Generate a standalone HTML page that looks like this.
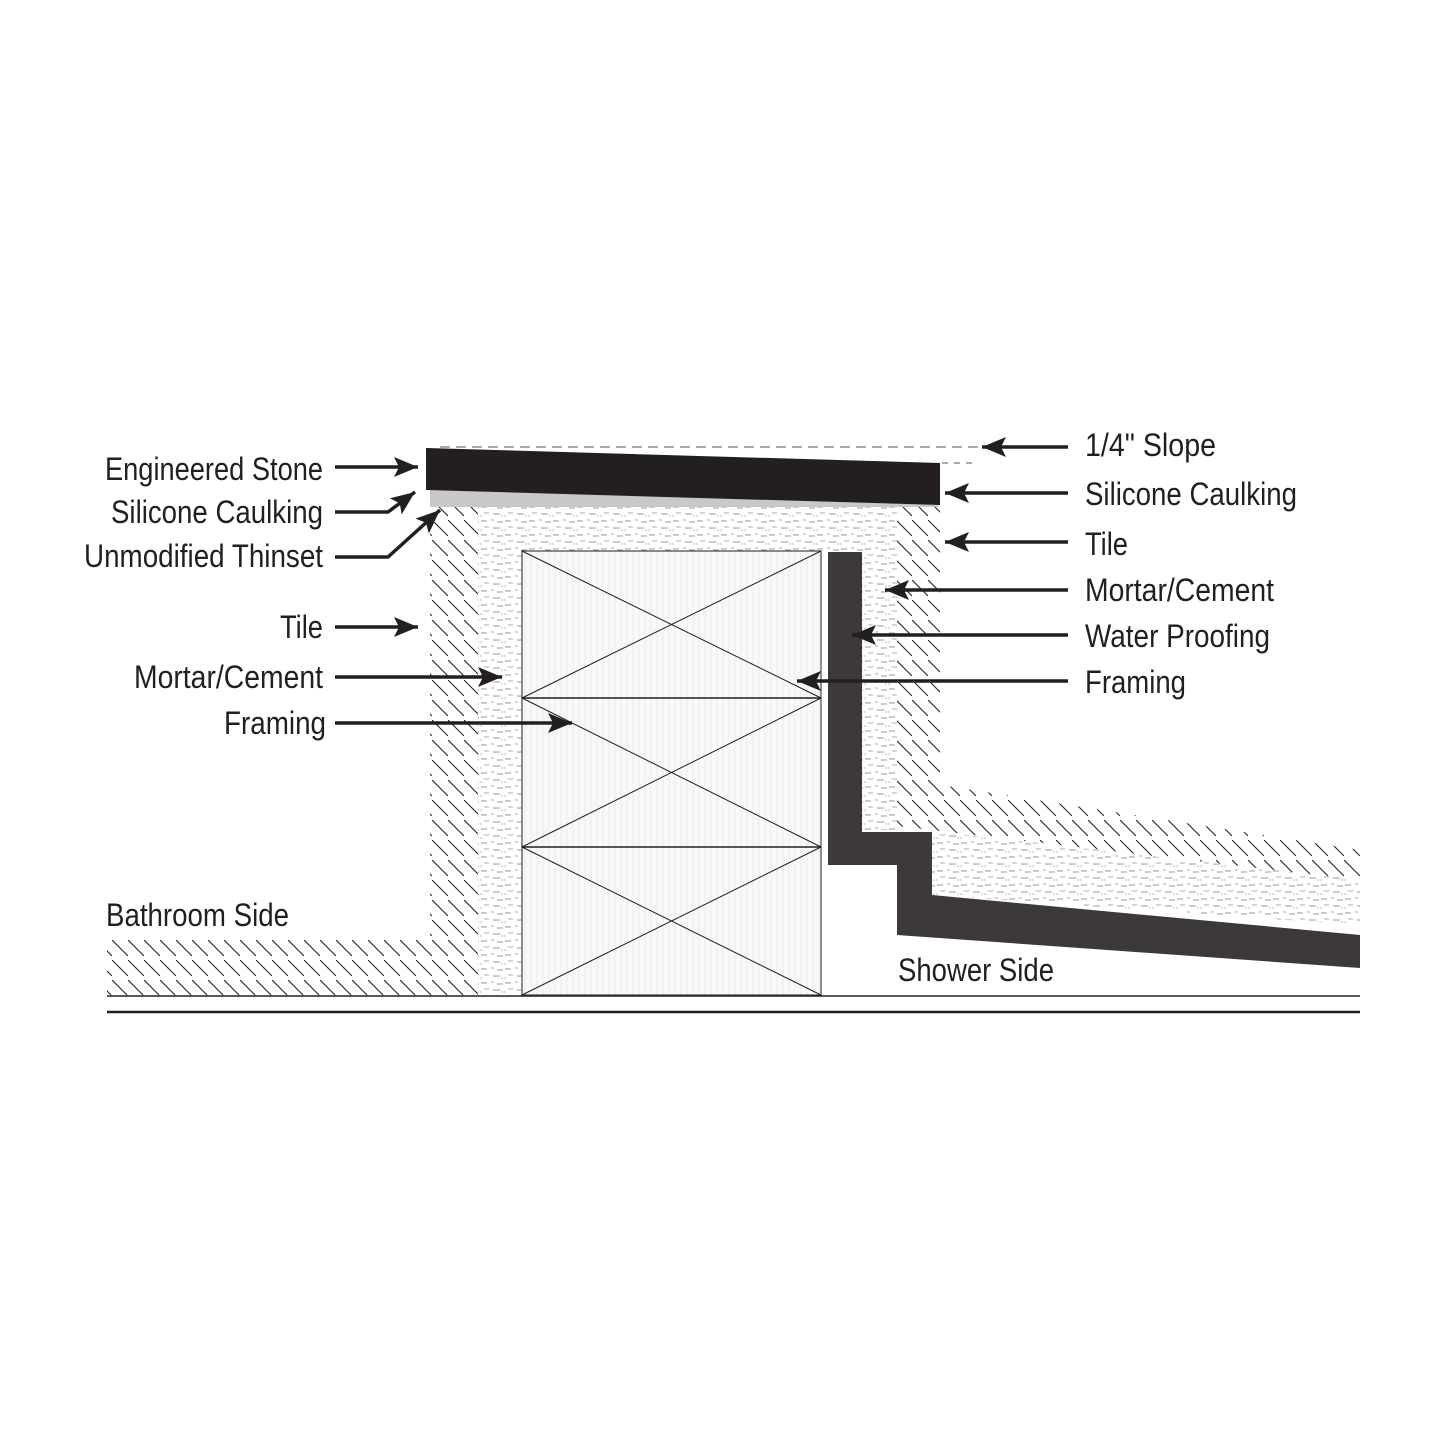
<!DOCTYPE html>
<html><head><meta charset="utf-8"><style>
html,body{margin:0;padding:0;background:#fff;}
svg{display:block;}
text{font-family:"Liberation Sans",sans-serif;font-size:32px;fill:#231f20;}
</style></head><body>
<svg width="1445" height="1444" viewBox="0 0 1445 1444" xmlns="http://www.w3.org/2000/svg">
<defs>
<pattern id="hatch" width="16" height="20" patternUnits="userSpaceOnUse">
<line x1="0" y1="0" x2="16" y2="16" stroke="#231f20" stroke-width="1.1"/>
</pattern>
<pattern id="mortar" width="24" height="14" patternUnits="userSpaceOnUse">
<rect width="24" height="14" fill="#fff"/>
<line x1="1" y1="3" x2="7" y2="3" stroke="#999" stroke-width="1"/>
<line x1="11" y1="2" x2="14" y2="2" stroke="#aaa" stroke-width="1"/>
<line x1="17" y1="4" x2="23" y2="4" stroke="#999" stroke-width="1"/>
<line x1="4" y1="9" x2="9" y2="9" stroke="#aaa" stroke-width="1"/>
<line x1="13" y1="10" x2="20" y2="10" stroke="#999" stroke-width="1"/>
<line x1="21" y1="12" x2="23" y2="12" stroke="#bbb" stroke-width="1"/>
<line x1="0" y1="12" x2="2" y2="12" stroke="#bbb" stroke-width="1"/>
</pattern>
<pattern id="wood" width="6" height="10" patternUnits="userSpaceOnUse">
<rect width="6" height="10" fill="#f8f8f8"/>
<line x1="3" y1="0" x2="3" y2="10" stroke="#ececec" stroke-width="1"/>
</pattern>
<marker id="ah" markerWidth="26" markerHeight="20" refX="24" refY="10" orient="auto" markerUnits="userSpaceOnUse">
<path d="M0,0 L24,10 L0,20 L5,10 Z" fill="#231f20"/>
</marker>
</defs>

<path d="M430,507 L478,507 L478,995 L107,995 L107,940 L430,940 Z" fill="url(#hatch)"/>
<path d="M478,507 L897,507 L897,830 L862,830 L862,552 L522,552 L522,995 L478,995 Z" fill="url(#mortar)"/>
<path d="M897,507 L940,507 L940,785 L1360,850 L1360,880 L897,826 Z" fill="url(#hatch)"/>
<path d="M932,832 L940,832 L1360,880 L1360,925 L932,895 Z" fill="url(#mortar)"/>
<rect x="522" y="551" width="299" height="444" fill="url(#wood)" stroke="#444" stroke-width="1.2"/>
<line x1="522" y1="698" x2="821" y2="698" stroke="#231f20" stroke-width="1.5"/>
<line x1="522" y1="847" x2="821" y2="847" stroke="#231f20" stroke-width="1.5"/>
<g stroke="#231f20" stroke-width="1">
<line x1="522" y1="551" x2="821" y2="698"/><line x1="821" y1="551" x2="522" y2="698"/>
<line x1="522" y1="698" x2="821" y2="847"/><line x1="821" y1="698" x2="522" y2="847"/>
<line x1="522" y1="847" x2="821" y2="995"/><line x1="821" y1="847" x2="522" y2="995"/>
</g>
<path d="M828,552 L862,552 L862,832 L932,832 L932,895 L1360,935 L1360,968 L897,935 L897,865 L828,865 Z" fill="#3d3839"/>
<path d="M430,490 L940,505 L938,507 L430,507 Z" fill="#c8c8c8"/>
<path d="M426,448 L940,463 L940,505 L426,490 Z" fill="#231f20"/>
<line x1="440" y1="447" x2="978" y2="447" stroke="#555" stroke-width="1" stroke-dasharray="10,6"/>
<line x1="942" y1="463" x2="978" y2="463" stroke="#555" stroke-width="1" stroke-dasharray="6,6"/>
<line x1="107" y1="996" x2="1360" y2="996" stroke="#231f20" stroke-width="1.5"/>
<line x1="107" y1="1012" x2="1360" y2="1012" stroke="#231f20" stroke-width="2.5"/>

<g stroke="#231f20" stroke-width="3.5" fill="none" marker-end="url(#ah)">
<line x1="335" y1="467" x2="418" y2="467"/>
<polyline points="335,512 388,512 415,492"/>
<polyline points="335,557 388,557 440,510"/>
<line x1="335" y1="627" x2="418" y2="627"/>
<line x1="335" y1="677" x2="502" y2="677"/>
<line x1="335" y1="723" x2="572" y2="723"/>
<line x1="1068" y1="447" x2="982" y2="447"/>
<line x1="1068" y1="493" x2="945" y2="493"/>
<line x1="1068" y1="542" x2="945" y2="542"/>
<line x1="1068" y1="590" x2="885" y2="590"/>
<line x1="1068" y1="635" x2="852" y2="635"/>
<line x1="1068" y1="681" x2="797" y2="681"/>
</g>

<text x="105" y="480" textLength="218" lengthAdjust="spacingAndGlyphs">Engineered Stone</text>
<text x="111" y="523" textLength="212" lengthAdjust="spacingAndGlyphs">Silicone Caulking</text>
<text x="84" y="567" textLength="239" lengthAdjust="spacingAndGlyphs">Unmodified Thinset</text>
<text x="280" y="638" textLength="43" lengthAdjust="spacingAndGlyphs">Tile</text>
<text x="134" y="688" textLength="189" lengthAdjust="spacingAndGlyphs">Mortar/Cement</text>
<text x="224" y="734" textLength="102" lengthAdjust="spacingAndGlyphs">Framing</text>
<text x="1085" y="456" textLength="131" lengthAdjust="spacingAndGlyphs">1/4" Slope</text>
<text x="1085" y="505" textLength="212" lengthAdjust="spacingAndGlyphs">Silicone Caulking</text>
<text x="1085" y="555" textLength="43" lengthAdjust="spacingAndGlyphs">Tile</text>
<text x="1085" y="601" textLength="189" lengthAdjust="spacingAndGlyphs">Mortar/Cement</text>
<text x="1085" y="647" textLength="185" lengthAdjust="spacingAndGlyphs">Water Proofing</text>
<text x="1085" y="693" textLength="101" lengthAdjust="spacingAndGlyphs">Framing</text>
<text x="106" y="926" textLength="183" lengthAdjust="spacingAndGlyphs">Bathroom Side</text>
<text x="898" y="981" textLength="156" lengthAdjust="spacingAndGlyphs">Shower Side</text>
</svg>
</body></html>
